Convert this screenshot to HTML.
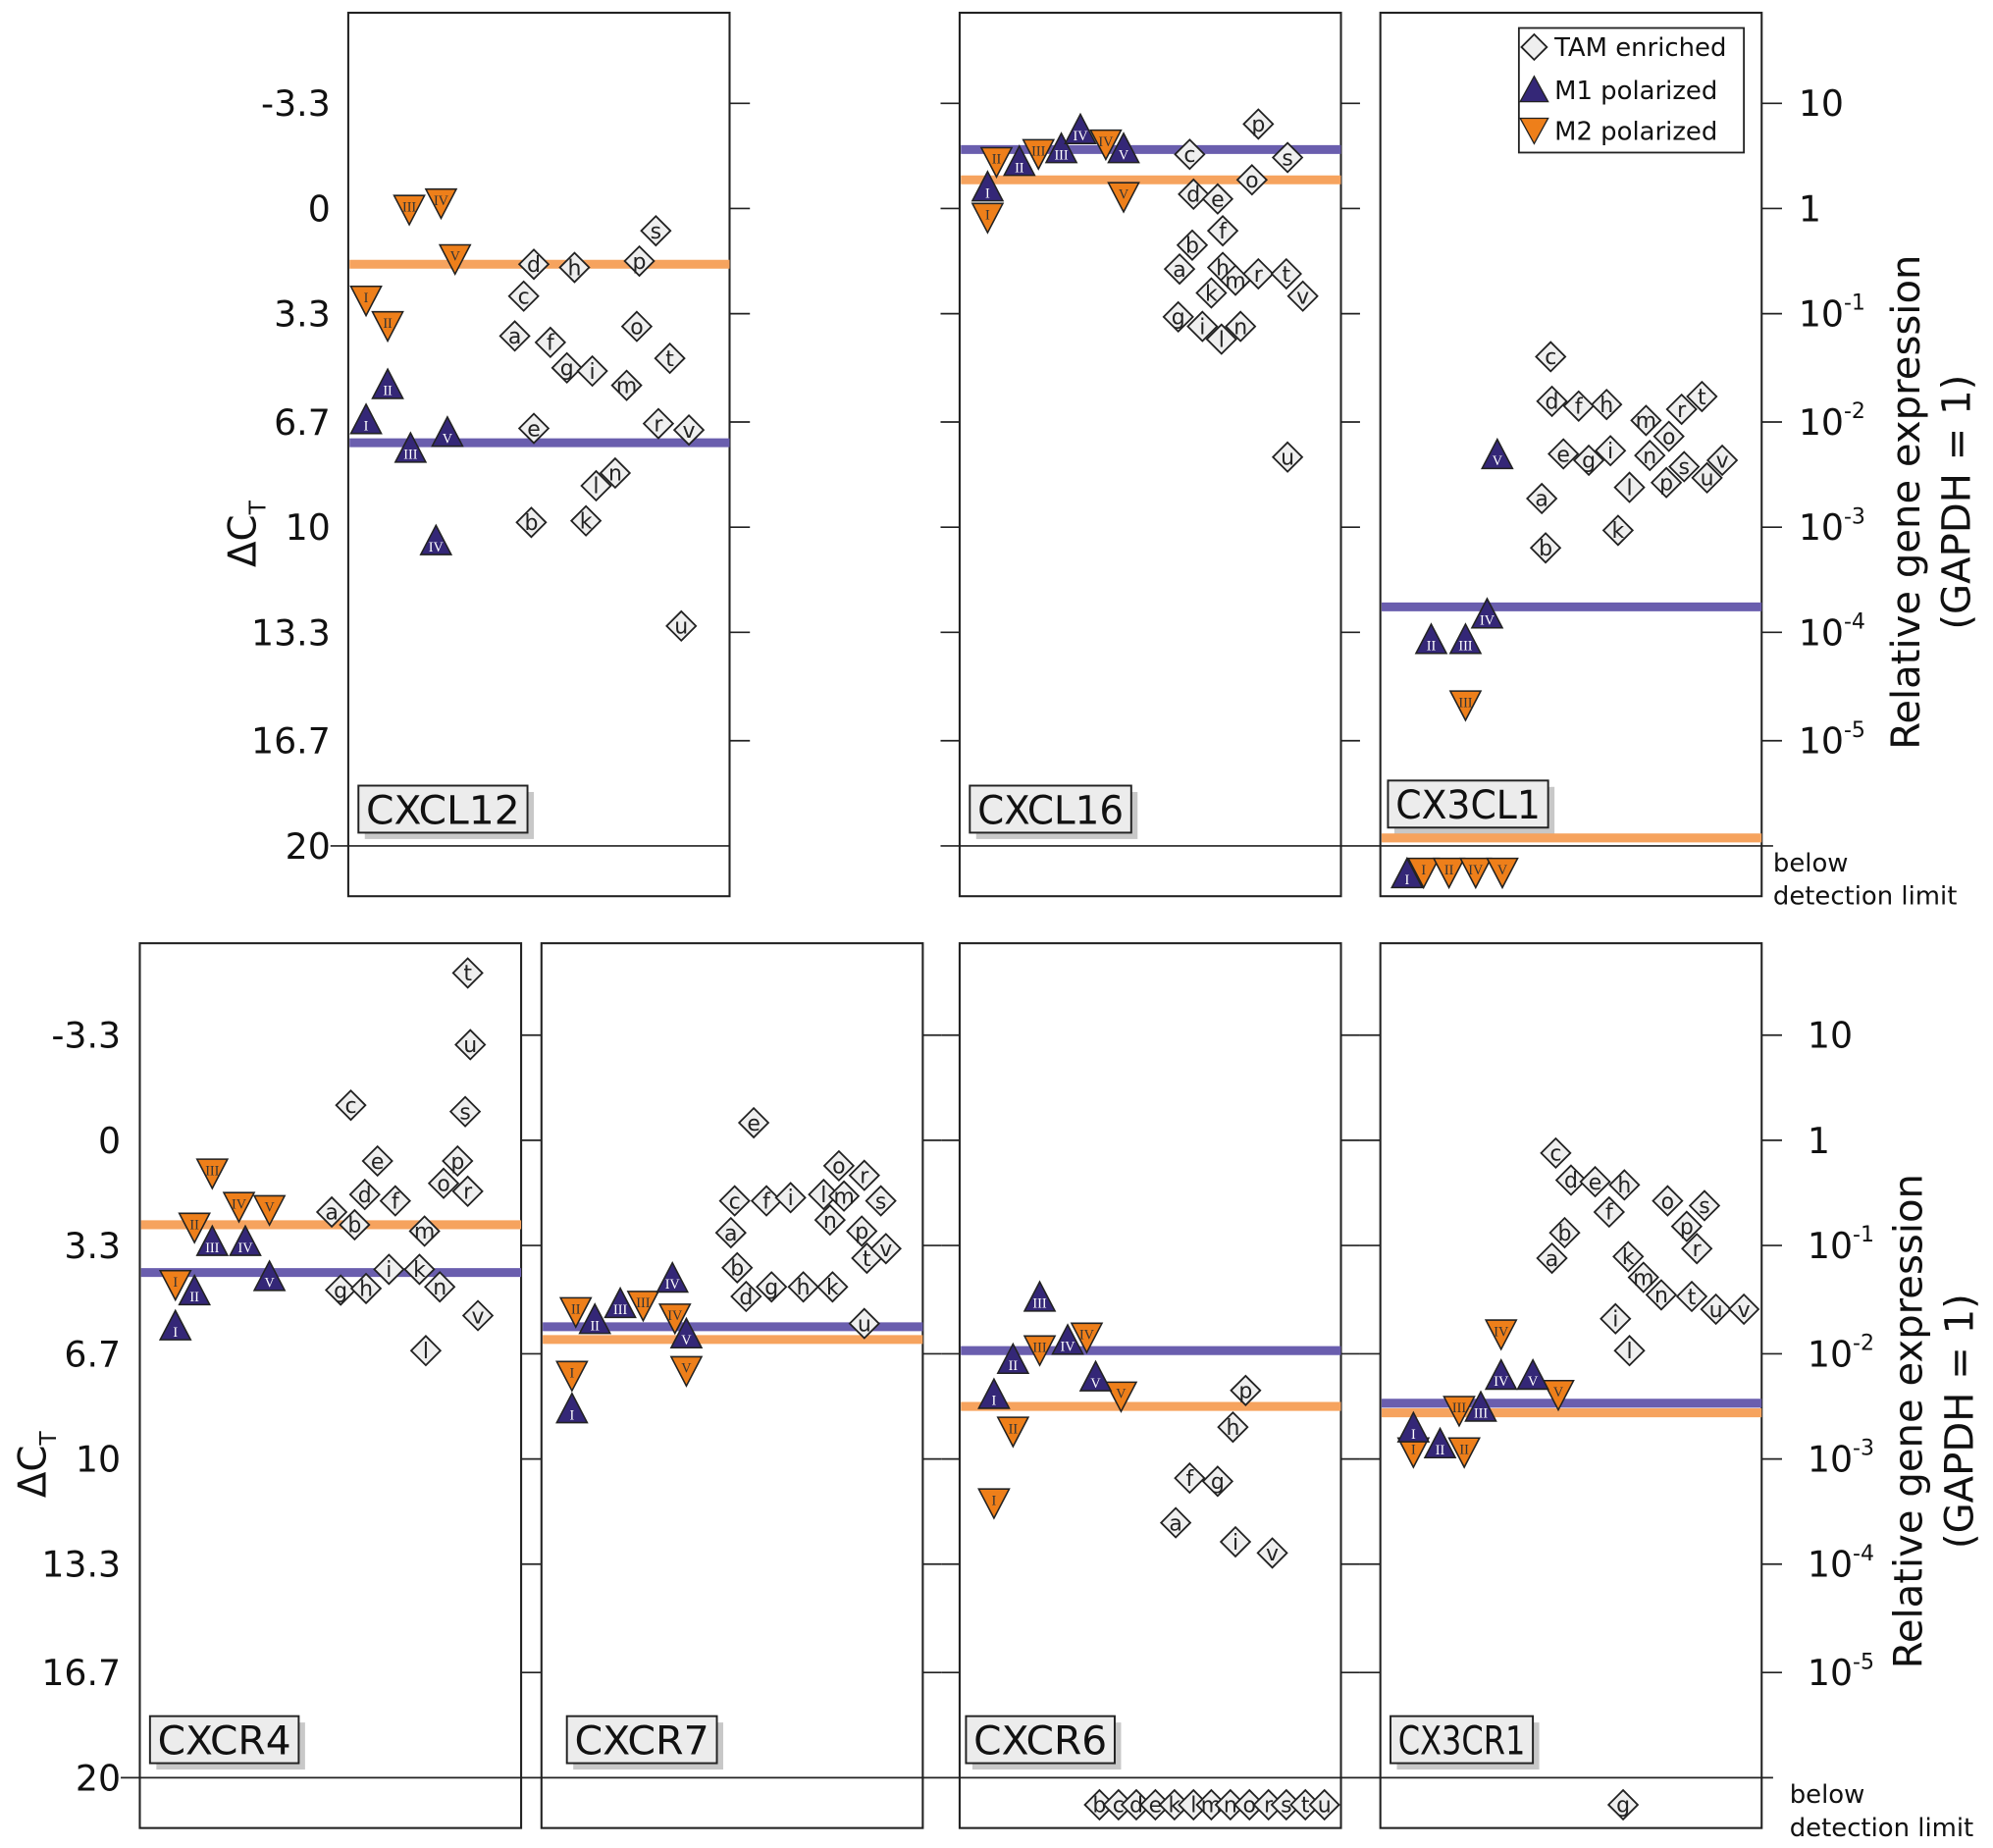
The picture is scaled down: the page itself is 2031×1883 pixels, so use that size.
<!DOCTYPE html>
<html><head><meta charset="utf-8"><style>
html,body{margin:0;padding:0;background:#fff;}
svg{display:block;font-family:"DejaVu Sans","Liberation Sans",sans-serif;}
</style></head><body>
<svg id="chart" xmlns="http://www.w3.org/2000/svg" width="2031" height="1883" viewBox="0 0 1568 1453.7">
<g id="g"></g>
</svg>
<script>
// ---- data (x = position within panel, y = delta Ct; 'B' = below detection limit) ----
const panelNames = ["CXCL12","CXCL16","CX3CL1","CXCR4","CXCR7","CXCR6","CX3CR1"];
const romans = ["I","II","III","IV","V"];
const tamLetters = ["a","b","c","d","e","f","g","h","i","k","l","m","n","o","p","r","s","t","u","v"];
const yTicks = [-3.3,0,3.3,6.7,10,13.3,16.7,20];
const yTickLabels = ["-3.3","0","3.3","6.7","10","13.3","16.7","20"];
const rightTickLabels = [["10",""],["1",""],["10","-1"],["10","-2"],["10","-3"],["10","-4"],["10","-5"]];

const m1X = [[14,31,49,69,78],[22,47,80,95,129],[21,40,67,84,92],[28,43,57,83,102],[24,42,62,103,114],[27,42,63,85,107],[26,47,79,95,120]];
const m1Y = [[6.6,5.5,7.5,10.4,7.0],[-0.7,-1.5,-1.9,-2.5,-1.9],['B',13.5,13.5,12.7,7.7],[5.8,4.7,3.15,3.15,4.25],[8.4,5.6,5.1,4.3,6.05],[7.95,6.85,4.9,6.25,7.4],[9.0,9.5,8.35,7.35,7.35]];
const m2X = [[14,31,48,73,84],[22,29,62,115,129],[34,54,67,75,96],[28,43,57,78,102],[24,27,80,105,114],[27,42,63,100,127],[26,66,62,95,140]];
const m2Y = [[2.9,3.7,0.05,-0.15,1.6],[0.3,-1.45,-1.7,-2.0,-0.35],['B','B',15.6,'B','B'],[4.55,2.75,1.05,2.1,2.2],[7.4,5.4,5.2,5.6,7.25],[11.4,9.15,6.6,6.2,8.05],[9.8,9.8,8.5,6.1,8.0]];
const tamX = [
 [131,144,138,146,146,159,172,178,192,187,195,219,210,227,229,244,242,253,262,268],
 [173,183,181,184,203,207,172,207,191,198,206,217,221,230,235,235,258,257,258,270],
 [127,130,134,135,144,156,164,178,181,187,196,209,212,227,225,237,239,253,257,269],
 [151,169,166,177,187,201,158,178,196,220,225,224,236,239,250,258,256,258,260,266],
 [149,154,152,161,167,177,181,206,196,229,222,238,227,234,252,254,267,256,254,271],
 [170,110,125,139,154,181,203,215,217,169,184,198,213,228,225,243,257,272,287,246],
 [135,145,138,150,169,180,191,192,185,195,196,207,221,226,241,249,255,245,264,286]];
const tamY = [
 [4.0,9.85,2.75,1.75,6.9,4.2,5.0,1.85,5.1,9.8,8.7,5.55,8.3,3.7,1.65,6.75,0.7,4.7,13.1,6.95],
 [1.9,1.15,-1.7,-0.45,-0.3,0.7,3.4,1.85,3.7,2.65,4.1,2.25,3.7,-0.9,-2.65,2.05,-1.6,2.05,7.8,2.75],
 [9.1,10.65,4.65,6.05,7.7,6.2,7.9,6.15,7.6,10.1,8.75,6.65,7.75,7.15,8.6,6.3,8.1,5.9,8.45,7.9],
 [2.25,2.65,-1.1,1.7,0.65,1.9,4.7,4.65,4.05,4.05,6.6,2.85,4.6,1.35,0.65,1.6,-0.9,-5.25,-3.0,5.5],
 [2.9,4.0,1.9,4.9,-0.55,1.9,4.6,4.6,1.8,4.6,1.7,1.75,2.5,0.8,2.85,1.1,1.9,3.7,5.75,3.4],
 [12.0,'B','B','B','B',10.6,10.7,9.0,12.6,'B','B','B','B','B',7.85,'B','B','B','B',12.95],
 [3.7,2.9,0.4,1.25,1.3,2.25,'B',1.4,5.6,3.65,6.6,4.3,4.85,1.9,2.7,3.4,2.05,4.9,5.3,5.3]];
const m1Mean = [7.35,-1.85,12.5,4.15,5.85,6.6,8.25];
const m2Mean = [1.75,-0.9,19.75,2.65,6.25,8.35,8.55];

// ---- layout ----
const panelX0 = [274,755,1086,110,426,755,1086];
const panelRow = [0,0,0,1,1,1,1];
const rowTop = [10,742], rowBot = [705,1438], rowZero = [164,897];
const PW = 300, UNIT = 25.07, BDL = 20.85;
const labelW = [133,127,126,117,118,117,112];
const labelOff = [8,8,6,8,20,5,8];
const labelTop = [618,618,614,1350,1350,1350,1350];
const NS = "http://www.w3.org/2000/svg";
const G = document.getElementById('g');
function el(tag, attrs, parent, text){
  const e = document.createElementNS(NS, tag);
  for (const k in attrs) e.setAttribute(k, attrs[k]);
  if (text !== undefined) e.textContent = text;
  (parent||G).appendChild(e); return e;
}
function yScale(row, v){ return rowZero[row] + UNIT*(v==='B'?BDL:v); }
const BLUE="#342777", ORANGE="#ee7f1a", LBLUE="#6a5eae", LORANGE="#f6a35e";

el('line',{x1:260,x2:574,y1:yScale(0,20),y2:yScale(0,20),stroke:"#222","stroke-width":1.3});
el('line',{x1:740,x2:1395,y1:yScale(0,20),y2:yScale(0,20),stroke:"#222","stroke-width":1.3});
el('line',{x1:95,x2:1395,y1:yScale(1,20),y2:yScale(1,20),stroke:"#222","stroke-width":1.3});
const tickSegs = [[[574,590],[740,755],[1055,1070],[1386,1402]],[[410,426],[726,741],[741,755],[1055,1070],[1070,1086],[1386,1402]]];
for (let r=0;r<2;r++){
  for (let t=0;t<yTicks.length-1;t++){
    const y=yScale(r,yTicks[t]);
    for (const s of tickSegs[r]){
      const ln=el('line',{x1:s[0],x2:s[1],y1:y,y2:y,stroke:"#222","stroke-width":1.3});
      
      
    }
  }
  const lx = r===0?260:95;
  yTicks.forEach((v,i)=>{
    const t=el('text',{x:lx,y:yScale(r,v)+10,"text-anchor":"end","font-size":28,fill:"#111"},G,yTickLabels[i]);
    
    
  });
  rightTickLabels.forEach((lab,i)=>{
    const x = r===0?1415:1422;
    const t=el('text',{x:x,y:yScale(r,yTicks[i])+10,"font-size":28,fill:"#111"},G,lab[0]);
    if (lab[1]) el('tspan',{dy:-13,"font-size":17},t,lab[1]);
    
    
  });
  const bx = r===0?1395:1408;
  const b1=el('text',{x:bx,y:yScale(r,20)+20,"font-size":20,fill:"#111"},G,"below");
  
  
  const b2=el('text',{x:bx,y:yScale(r,20)+46,"font-size":20,fill:"#111"},G,"detection limit");
  
  
  const cy = r===0?395:1118;
  const rx = r===0?1510:1512;
  const t1=el('text',{x:0,y:0,"font-size":31,"text-anchor":"middle",fill:"#111",transform:`translate(${rx},${cy}) rotate(-90)`},G,"Relative gene expression");
  
  
  const t2=el('text',{x:0,y:0,"font-size":31,"text-anchor":"middle",fill:"#111",transform:`translate(${rx+40},${cy}) rotate(-90)`},G,"(GAPDH = 1)");
  
  
  const ax = r===0?201:36, ay = r===0?420:1152;
  const t3=el('text',{x:0,y:0,"font-size":30,"text-anchor":"middle",fill:"#111",transform:`translate(${ax},${ay}) rotate(-90)`},G,"ΔC");
  el('tspan',{dy:8,"font-size":18},t3,"T");
  
  
}

function diamond(cx,cy,lab,p){
  const g=el('g',{},p);
  
  
  const s=11.5;
  el('polygon',{points:`${cx},${cy-s} ${cx+s},${cy} ${cx},${cy+s} ${cx-s},${cy}`,fill:"#efefef",stroke:"#222","stroke-width":1.4},g);
  el('text',{x:cx,y:cy+6,"text-anchor":"middle","font-size":17,fill:"#222"},g,lab);
}
function tri(cx,cy,up,lab,p){
  const g=el('g',{},p);
  
  
  const w=12, h=11.5;
  const pts = up ? `${cx},${cy-h} ${cx+w},${cy+h} ${cx-w},${cy+h}` : `${cx-w},${cy-h} ${cx+w},${cy-h} ${cx},${cy+h}`;
  el('polygon',{points:pts,fill:up?BLUE:ORANGE,stroke:"#222","stroke-width":1.2},g);
  el('text',{x:cx,y:up?cy+9:cy+1,"text-anchor":"middle","font-size":11,"font-family":"Liberation Serif,serif",fill:up?"#fff":"#333"},g,lab);
}

panelNames.forEach((name,p)=>{
  const r=panelRow[p], x0=panelX0[p];
  const pg=el('g',{});
  
  
  el('rect',{x:x0,y:rowTop[r],width:PW,height:rowBot[r]-rowTop[r],fill:"none",stroke:"#222","stroke-width":1.6},pg);
  const ly = labelTop[p], lxx = x0+labelOff[p];
  el('rect',{x:lxx+5,y:ly+5,width:labelW[p],height:37,fill:"#c8c8c8"},pg);
  const lb=el('rect',{x:lxx,y:ly,width:labelW[p],height:37,fill:"#ececec",stroke:"#222","stroke-width":1.5},pg);
  
  
  el('text',{x:lxx+labelW[p]/2,y:ly+30,"text-anchor":"middle","font-size":31,fill:"#111",textLength:labelW[p]-12,lengthAdjust:"spacingAndGlyphs"},pg,name);
  const l1=el('line',{x1:x0+1,x2:x0+PW,y1:yScale(r,m1Mean[p]),y2:yScale(r,m1Mean[p]),stroke:LBLUE,"stroke-width":7},pg);
  
  
  const l2=el('line',{x1:x0+1,x2:x0+PW,y1:yScale(r,m2Mean[p]),y2:yScale(r,m2Mean[p]),stroke:LORANGE,"stroke-width":7},pg);
  
  
  tamLetters.forEach((lab,i)=>diamond(x0+tamX[p][i],yScale(r,tamY[p][i]),lab,pg));
  romans.forEach((lab,i)=>tri(x0+m2X[p][i],yScale(r,m2Y[p][i]),false,lab,pg));
  romans.forEach((lab,i)=>tri(x0+m1X[p][i],yScale(r,m1Y[p][i]),true,lab,pg));
});

const lg=el('g',{});


el('rect',{x:1195,y:22,width:177,height:98,fill:"#fff",stroke:"#222","stroke-width":1.4},lg);
const s=10;
el('polygon',{points:`1207,${37-s} ${1207+s},37 1207,${37+s} ${1207-s},37`,fill:"#efefef",stroke:"#222","stroke-width":1.4},lg);
el('polygon',{points:`1207,60 1218,80 1196,80`,fill:BLUE,stroke:"#222","stroke-width":1},lg);
el('polygon',{points:`1196,93 1218,93 1207,113`,fill:ORANGE,stroke:"#222","stroke-width":1},lg);
[["TAM enriched",44],["M1 polarized",78],["M2 polarized",110]].forEach(([t,y])=>{
  const e=el('text',{x:1223,y:y,"font-size":20,fill:"#111"},lg,t);
  
  
});
</script>
</body></html>
